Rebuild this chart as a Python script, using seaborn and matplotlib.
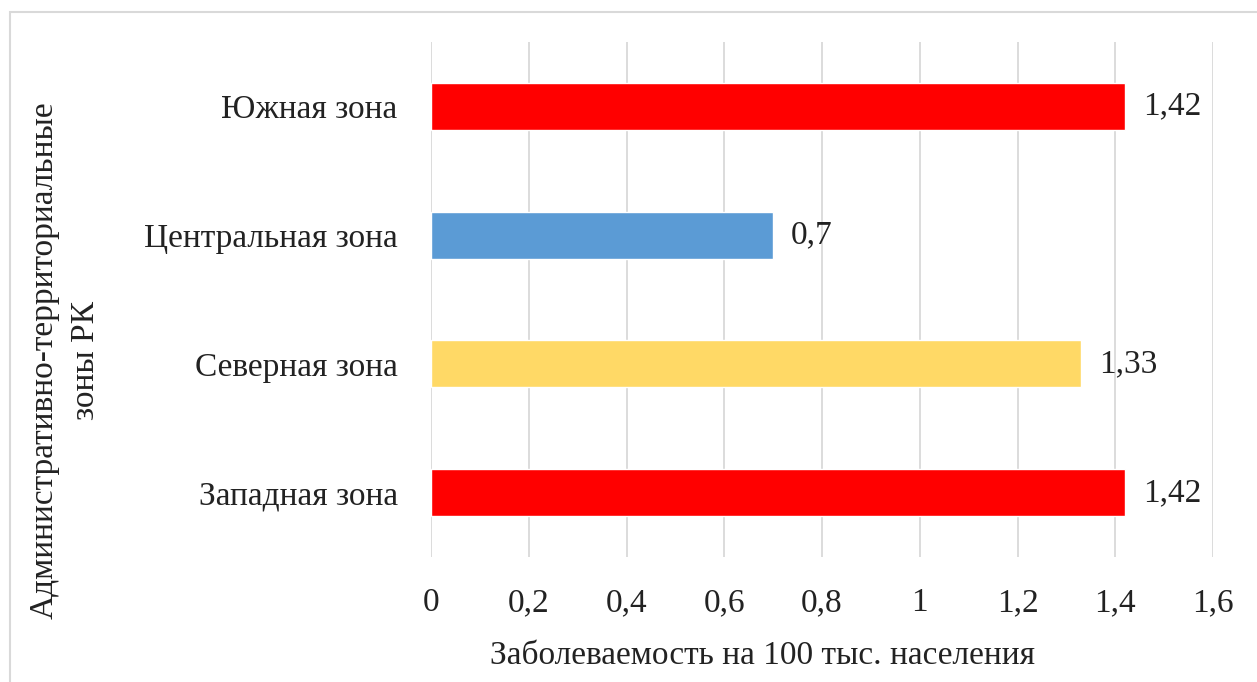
import matplotlib
matplotlib.use("Agg")
import matplotlib.pyplot as plt
import matplotlib.patches as mpatches
import seaborn as sns

# данные
zones = ["Южная зона", "Центральная зона", "Северная зона", "Западная зона"]
values = [1.42, 0.70, 1.33, 1.42]
value_labels = ["1,42", "0,7", "1,33", "1,42"]
bar_colors = ["#FF0000", "#5B9BD5", "#FFD966", "#FF0000"]
x_ticks = [0, 0.2, 0.4, 0.6, 0.8, 1.0, 1.2, 1.4, 1.6]

sns.set_theme(style="white")
plt.rcParams["font.family"] = ["Liberation Serif", "DejaVu Serif"]

fig = plt.figure(figsize=(12.57, 6.82), dpi=100)
ax = fig.add_axes([431 / 1257, 1 - 557 / 682, (1213 - 431) / 1257, (557 - 42) / 682])

sns.barplot(
    x=values,
    y=zones,
    hue=zones,
    palette=dict(zip(zones, bar_colors)),
    orient="h",
    width=0.365,
    legend=False,
    saturation=1,
    ax=ax,
)

for cont, lab in zip(ax.containers, value_labels):
    ax.bar_label(cont, labels=[lab], padding=13, fontsize=24, color="#222222")

ax.set_xlim(0, 1.6)
ax.set_ylim(3.5, -0.5)
ax.set_xticks(x_ticks)
ax.set_xticklabels([f"{v:g}".replace(".", ",") for v in x_ticks], fontsize=24, color="#222222")
ax.tick_params(axis="x", length=0, pad=22)
ax.tick_params(axis="y", length=0, pad=24, labelsize=24, labelcolor="#222222")
ax.set_xlabel("")
ax.set_ylabel("")
ax.grid(axis="x", color="#d9d9d9", linewidth=1.3)
ax.set_axisbelow(True)
for s in ax.spines.values():
    s.set_visible(False)

fig.text(762 / 1257, 1 - 656 / 682, "Заболеваемость на 100 тыс. населения",
         ha="center", va="center", fontsize=24, color="#222222")
fig.text(65 / 1257, 1 - 360 / 682, "Административно-территориальные\nзоны РК",
         ha="center", va="center", rotation=90, multialignment="center",
         fontsize=24, color="#222222", linespacing=1.45)

# рамка области диаграммы
fig.patches.append(mpatches.Rectangle(
    (10 / 1257, -0.1), 1.2, 1.1 - 12 / 682, transform=fig.transFigure,
    fill=False, edgecolor="#d9d9d9", linewidth=1.5))

fig.savefig("out.png", dpi=100)
